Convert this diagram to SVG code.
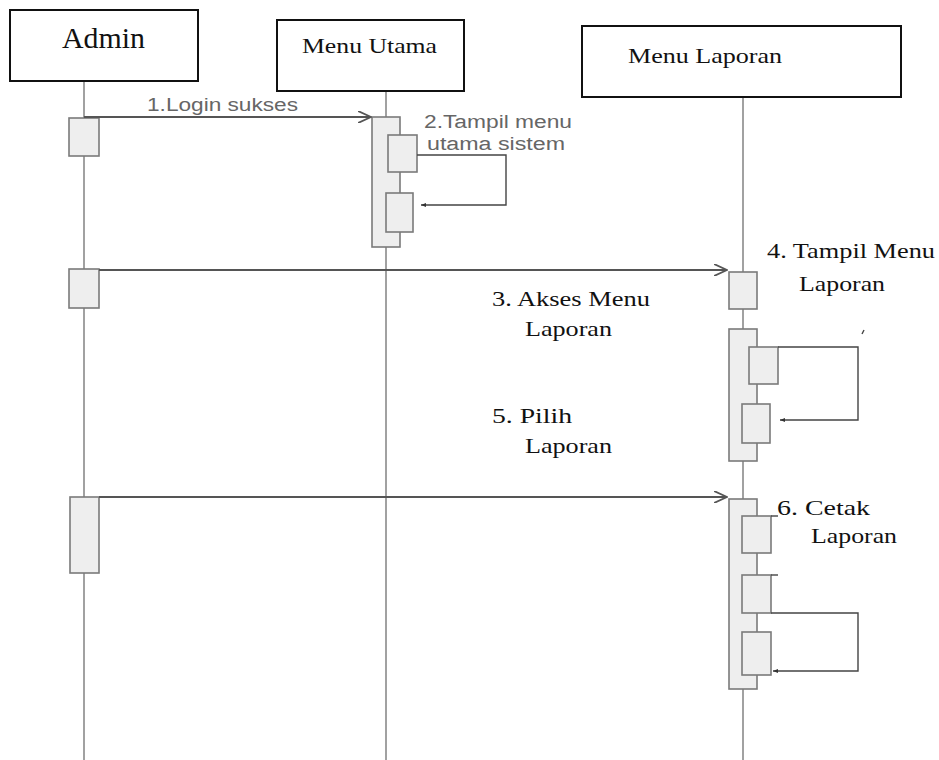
<svg xmlns="http://www.w3.org/2000/svg" width="939" height="760" viewBox="0 0 939 760">
<style>
.head{fill:#fff;stroke:#111;stroke-width:2}
.life{stroke:#8a8a8a;stroke-width:1.6;fill:none}
.act{fill:#eeeeee;stroke:#7a7a7a;stroke-width:1.6}
.msg{stroke:#555;stroke-width:1.8;fill:none}
.self{stroke:#444;stroke-width:1.4;fill:none}
.serif{font-family:'Liberation Serif','DejaVu Serif',serif;fill:#111}
.sans{font-family:'Liberation Sans',Arial,sans-serif;fill:#666;font-size:18px}
</style>
<defs>
<marker id="open" markerWidth="14" markerHeight="12" refX="13" refY="6" orient="auto" markerUnits="userSpaceOnUse">
<path d="M0,0 L13,6 L0,12" fill="none" stroke="#555" stroke-width="1.8"/>
</marker>
<marker id="small" markerWidth="6" markerHeight="6" refX="5" refY="3" orient="auto" markerUnits="userSpaceOnUse">
<path d="M0,1 L5,3 L0,5 Z" fill="#333"/>
</marker>
</defs>
<rect width="939" height="760" fill="#fff"/>
<g id="admin">
<line class="life" x1="84" y1="81" x2="84" y2="760"/>
<rect class="head" x="10" y="10" width="188" height="71"/>
<text class="serif" font-family="Liberation Serif, DejaVu Serif, serif" x="62" y="48" font-size="29" textLength="83" lengthAdjust="spacingAndGlyphs">Admin</text>
<rect class="act" x="69" y="118" width="30" height="38"/>
<rect class="act" x="69" y="269" width="30" height="39"/>
<rect class="act" x="70" y="497" width="29" height="76"/>
</g>
<g id="menu-utama">
<line class="life" x1="386" y1="91" x2="386" y2="760"/>
<rect class="head" x="277" y="20" width="187" height="71"/>
<text class="serif" font-family="Liberation Serif, DejaVu Serif, serif" x="302" y="53" font-size="21" textLength="135" lengthAdjust="spacingAndGlyphs">Menu Utama</text>
<rect class="act" x="372" y="117" width="28" height="130"/>
<rect class="act" x="388" y="135" width="29" height="37"/>
<rect class="act" x="386" y="193" width="27" height="39"/>
</g>
<g id="menu-laporan">
<line class="life" x1="743" y1="97" x2="743" y2="760"/>
<rect class="head" x="582" y="26" width="319" height="71"/>
<text class="serif" font-family="Liberation Serif, DejaVu Serif, serif" x="628" y="63" font-size="21" textLength="154" lengthAdjust="spacingAndGlyphs">Menu Laporan</text>
<rect class="act" x="729" y="272" width="28" height="37"/>
<rect class="act" x="729" y="329" width="28" height="132"/>
<rect class="act" x="749" y="347" width="29" height="37"/>
<rect class="act" x="742" y="404" width="28" height="39"/>
<rect class="act" x="729" y="499" width="28" height="190"/>
<rect class="act" x="742" y="516" width="29" height="37"/>
<rect class="act" x="742" y="575" width="29" height="38"/>
<rect class="act" x="742" y="632" width="29" height="43"/>
</g>
<g id="connectors">
<line class="msg" x1="84" y1="117" x2="371" y2="117" marker-end="url(#open)"/>
<polyline class="self" points="417,155 506,155 506,205 421,205" marker-end="url(#small)"/>
<line class="msg" x1="99" y1="270" x2="727" y2="270" marker-end="url(#open)"/>
<polyline class="self" points="778,347 858,347 858,420 780,420" marker-end="url(#small)"/>
<line class="msg" x1="99" y1="497" x2="727" y2="497" marker-end="url(#open)"/>
<line class="self" x1="771" y1="516" x2="778" y2="516"/>
<line class="self" x1="771" y1="575" x2="778" y2="575"/>
<polyline class="self" points="771,613 858,613 858,671 773,671" marker-end="url(#small)"/>
<line class="self" x1="864" y1="330" x2="862" y2="334"/>
</g>
<g id="labels">
<text class="sans" font-family="Liberation Sans, Arial, sans-serif" x="147" y="111" textLength="151" lengthAdjust="spacingAndGlyphs">1.Login sukses</text>
<text class="sans" font-family="Liberation Sans, Arial, sans-serif" x="424" y="128" textLength="148" lengthAdjust="spacingAndGlyphs">2.Tampil menu</text>
<text class="sans" font-family="Liberation Sans, Arial, sans-serif" x="427" y="150" textLength="138" lengthAdjust="spacingAndGlyphs">utama sistem</text>
<g class="serif" font-family="Liberation Serif, DejaVu Serif, serif" font-size="21">
<text x="767" y="258" textLength="168" lengthAdjust="spacingAndGlyphs">4. Tampil Menu</text>
<text x="799" y="291" textLength="86" lengthAdjust="spacingAndGlyphs">Laporan</text>
<text x="492" y="306" textLength="158" lengthAdjust="spacingAndGlyphs">3. Akses Menu</text>
<text x="525" y="336" textLength="87" lengthAdjust="spacingAndGlyphs">Laporan</text>
<text x="492" y="423" textLength="80" lengthAdjust="spacingAndGlyphs">5.  Pilih</text>
<text x="525" y="453" textLength="87" lengthAdjust="spacingAndGlyphs">Laporan</text>
<text x="777" y="515" textLength="93" lengthAdjust="spacingAndGlyphs">6.   Cetak</text>
<text x="811" y="543" textLength="86" lengthAdjust="spacingAndGlyphs">Laporan</text>
</g>
</g>
</svg>
